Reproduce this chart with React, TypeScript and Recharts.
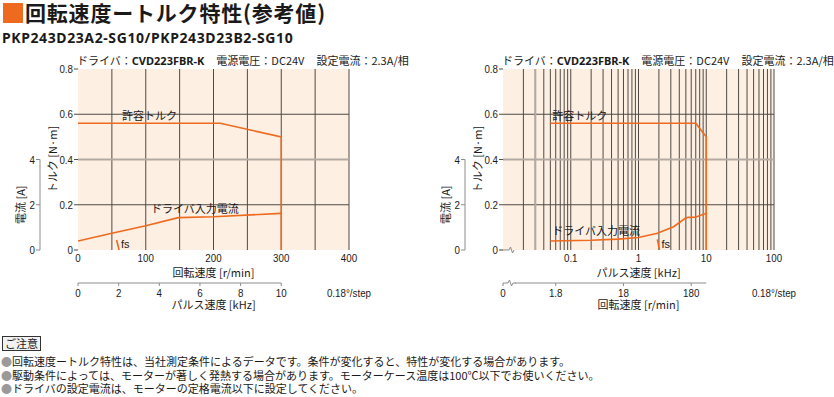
import { LineChart, Line, XAxis, YAxis, CartesianGrid, ReferenceLine } from 'recharts'

// ---- data ----
const torqueTicks = [0, 0.2, 0.4, 0.6, 0.8]
const currentTicks = [0, 2, 4]

// left panel: main axis = speed r/min (linear), sub axis = pulse kHz
const linSpeedTicks = [0, 100, 200, 300, 400]
const linSpeedGrid = [50, 100, 150, 200, 250, 300, 350, 400]
const linPulseTicks = [0, 2, 4, 6, 8, 10]
const linTorqueX = [0, 210, 300, 300]
const linTorqueY = [0.56, 0.56, 0.5, 0]
const linCurrentX = [0, 50, 100, 148, 200, 300]
const linCurrentY = [0.4, 0.74, 1.07, 1.43, 1.47, 1.62]
const linFsKHz = [1.9, 2.02]
const linFsY = [0.044, 0]

// right panel: main axis = pulse kHz (log), sub axis = speed r/min
const logPulseTicks = [0.1, 1, 10, 100]
const logPulseGrid = [
  0.02, 0.03, 0.04, 0.05, 0.06, 0.07, 0.08, 0.09,
  0.1, 0.2, 0.3, 0.4, 0.5, 0.6, 0.7, 0.8, 0.9,
  1, 2, 3, 4, 5, 6, 7, 8, 9,
  10, 20, 30, 40, 50, 60, 70, 80, 90, 100,
]
const logSpeedTicks = [0.3, 1.8, 18, 180]
const logTorqueX = [0.05, 7, 10, 10]
const logTorqueY = [0.56, 0.56, 0.5, 0]
const logCurrentX = [0.05, 0.2, 0.5, 1, 1.9, 3.3, 4.9, 5.4, 6.9, 10]
const logCurrentY = [0.4, 0.43, 0.48, 0.55, 0.74, 1.03, 1.4, 1.44, 1.45, 1.62]
const logFsRpm = [57, 61.2]
const logFsY = [0.047, 0]

const notes = [
  '回転速度ートルク特性は、当社測定条件によるデータです。条件が変化すると、特性が変化する場合があります。',
  '駆動条件によっては、モーターが著しく発熱する場合があります。モーターケース温度は100℃以下でお使いください。',
  'ドライバの設定電流は、モーターの定格電流以下に設定してください。',
]

// ---- styling ----
const ORANGE = '#ee6a1e'
const PEACH = '#fdefe2'
const GRID = '#4f4a46'
const GREY = '#b3aaa3'
const AXIS = '#8c8c8c'
const INK = '#1a1a1a'
const JP = "'Noto Sans CJK JP', sans-serif"
const NUM = "'Liberation Sans', Arial, sans-serif"
const LATIN_BOLD = "'Noto Sans', 'Noto Sans CJK JP', sans-serif"
const NARROW = 0.85

const W = 380
const H = 315
const M = { top: 69, right: 31, bottom: 4, left: 0 }
const CUR_W = 40
const TQ_W = 38
const X1_H = 33
const X2_H = 28
const PLOT_W = W - M.left - M.right - CUR_W - TQ_W
const PLOT_H = H - M.top - M.bottom - X1_H - X2_H

const zip = (xs: number[], ys: number[]) => xs.map((x, i) => ({ x, y: ys[i] }))

// condensed numeric text, like the catalogue's narrow sans
function NarrowText({ x, y, anchor, dy, children }: any) {
  return (
    <text transform={`translate(${x},${y}) scale(${NARROW},1)`} textAnchor={anchor} dy={dy}
      fontFamily={NUM} fontSize={11.5} fill={INK}>
      {children}
    </text>
  )
}

function Tick({ x, y, payload, textAnchor, fmt, side }: any) {
  const label = fmt ? fmt(payload.value) : String(payload.value)
  return (
    <NarrowText x={x} y={y} anchor={textAnchor} dy={side === 'bottom' ? '0.75em' : '0.36em'}>
      {label}
    </NarrowText>
  )
}

function XTitle({ viewBox, text, dy }: any) {
  const { x, y, width } = viewBox
  return (
    <text x={x + width / 2} y={y + dy} textAnchor="middle" dominantBaseline="central"
      fontFamily={JP} fontSize={11} fill={INK}>
      {text}
    </text>
  )
}

function SubAxisLabels({ viewBox, text }: any) {
  const { x, y, width } = viewBox
  return (
    <g>
      <XTitle viewBox={viewBox} text={text} dy={21} />
      <NarrowText x={x + width + 22} y={y + 5} anchor="end" dy="0.75em">0.18°/step</NarrowText>
    </g>
  )
}

function YTitle({ viewBox, text, dx, frac }: any) {
  const cx = viewBox.x + dx
  const cy = viewBox.y + viewBox.height * frac
  return (
    <text x={cx} y={cy} transform={`rotate(-90 ${cx} ${cy})`} textAnchor="middle"
      dominantBaseline="central" fontFamily={JP} fontSize={11} fill={INK}>
      {text}
    </text>
  )
}

const tagDot = (text: string, idx: number, dx: number, dy: number, font = JP) => (p: any) => {
  if (p.index !== idx) return <g key={`d${p.index}`} />
  return (
    <text key={`d${p.index}`} x={p.cx + dx} y={p.cy + dy} dominantBaseline="central"
      fontFamily={font} fontSize={11} fill={INK}>
      {text}
    </text>
  )
}

const fmtTorque = (v: number) => (v === 0 ? '0' : v.toFixed(1))

interface PanelCfg {
  log: boolean
  mainDomain: number[]
  mainTicks: number[]
  mainGrid: number[]
  mainTitle: string
  subDomain: number[]
  subTicks: number[]
  subFmt: (v: number) => string
  subTitle: string
  torque: { x: number; y: number }[]
  current: { x: number; y: number }[]
  fs: { x: number; y: number }[]
  torqueTag: number[]
  currentTag: number[]
  greyX?: number
}

function Panel({ left, cfg }: { left: number; cfg: PanelCfg }) {
  const plotLeft = M.left + CUR_W + TQ_W
  const plotBottom = M.top + PLOT_H
  const scale = cfg.log ? 'log' : 'auto'
  return (
    <div style={{ position: 'absolute', left, top: 0, width: W, height: H }}>
      <div style={{ position: 'absolute', left: plotLeft - 1, top: 52, whiteSpace: 'nowrap',
        fontSize: 11, lineHeight: '16px', color: INK, fontFamily: JP }}>
        ドライバ：<span style={{ fontFamily: LATIN_BOLD, fontWeight: 700 }}>CVD223FBR-K</span>
        <span style={{ marginLeft: 12 }}>電源電圧：DC24V</span>
        <span style={{ marginLeft: 12 }}>設定電流：2.3A/相</span>
      </div>
      <div style={{ position: 'absolute', left: 0, top: 0 }}>
        <LineChart width={W} height={H} margin={M}>
          <CartesianGrid xAxisId="xa" yAxisId="ya" fill={PEACH} fillOpacity={1} stroke={GRID}
            strokeWidth={1} horizontalValues={[0.2, 0.6]} verticalValues={cfg.mainGrid} />
          <XAxis xAxisId="xa" type="number" dataKey="x" scale={scale}
            domain={cfg.mainDomain} ticks={cfg.mainTicks} allowDataOverflow interval={0}
            height={X1_H} axisLine={false} tickLine={false} tickSize={0} tickMargin={3}
            tick={<Tick side="bottom" />} label={<XTitle text={cfg.mainTitle} dy={22} />} />
          <XAxis xAxisId="xb" type="number" dataKey="x" scale={scale}
            domain={cfg.subDomain} ticks={cfg.subTicks} allowDataOverflow interval={0}
            height={X2_H}
            axisLine={{ stroke: AXIS, strokeDasharray: `${PLOT_W * 0.75} ${PLOT_W}` }}
            tickLine={{ stroke: AXIS }} tickSize={3} tickMargin={2}
            tick={<Tick side="bottom" fmt={cfg.subFmt} />}
            label={<SubAxisLabels text={cfg.subTitle} />} />
          <YAxis yAxisId="ya" type="number" domain={[0, 0.8]} ticks={torqueTicks} width={TQ_W}
            allowDataOverflow interval={0}
            axisLine={false} tickLine={{ stroke: GRID }} tickSize={4} tickMargin={1}
            tick={<Tick side="left" fmt={fmtTorque} />}
            label={<YTitle text="トルク [N·m]" dx={12} frac={0.5} />} />
          <YAxis yAxisId="yb" type="number" domain={[0, 8]} ticks={currentTicks} width={CUR_W}
            allowDataOverflow interval={0}
            axisLine={{ stroke: AXIS, strokeDasharray: `0 ${PLOT_H / 2} ${PLOT_H / 2 + 1}` }}
            tickLine={{ stroke: AXIS }} tickSize={4} tickMargin={1}
            tick={<Tick side="left" />}
            label={<YTitle text="電流 [A]" dx={20} frac={0.75} />} />
          <ReferenceLine xAxisId="xa" yAxisId="ya" y={0.4} stroke={GREY} strokeWidth={2} />
          {cfg.greyX !== undefined && (
            <ReferenceLine xAxisId="xa" yAxisId="ya" x={cfg.greyX} stroke={GREY} strokeWidth={2} />
          )}
          <Line xAxisId="xa" yAxisId="yb" data={cfg.current} dataKey="y" type="linear"
            stroke={ORANGE} strokeWidth={1.6} isAnimationActive={false}
            dot={tagDot('ドライバ入力電流', 0, cfg.currentTag[0], cfg.currentTag[1])} activeDot={false} />
          <Line xAxisId="xa" yAxisId="ya" data={cfg.torque} dataKey="y" type="linear"
            stroke={ORANGE} strokeWidth={1.6} isAnimationActive={false}
            dot={tagDot('許容トルク', 0, cfg.torqueTag[0], cfg.torqueTag[1])} activeDot={false} />
          <Line xAxisId="xb" yAxisId="ya" data={cfg.fs} dataKey="y" type="linear"
            stroke={ORANGE} strokeWidth={1.6} isAnimationActive={false}
            dot={tagDot('fs', 1, 2, -6, NUM)} activeDot={false} />
        </LineChart>
      </div>
      {cfg.log && (
        <svg width={W} height={H} style={{ position: 'absolute', left: 0, top: 0, pointerEvents: 'none' }}>
          <path d={`M${plotLeft - 3},${plotBottom} H${plotLeft + 6} l1.5,-3 l2,6 l1.5,-3`}
            fill="none" stroke={AXIS} strokeWidth={1} />
          <rect x={plotLeft + 5} y={plotBottom + X1_H - 3} width={7} height={6} fill="#fff" />
          <path d={`M${plotLeft + 5},${plotBottom + X1_H} l1.5,-3 l2,6 l1.5,-3 H${plotLeft + 13}`}
            fill="none" stroke={AXIS} strokeWidth={1} />
        </svg>
      )}
    </div>
  )
}

const linCfg: PanelCfg = {
  log: false,
  mainDomain: [0, 400],
  mainTicks: linSpeedTicks,
  mainGrid: linSpeedGrid,
  mainTitle: '回転速度 [r/min]',
  subDomain: [0, 400 / 30],
  subTicks: linPulseTicks,
  subFmt: (v) => String(v),
  subTitle: 'パルス速度 [kHz]',
  torque: zip(linTorqueX, linTorqueY),
  current: zip(linCurrentX, linCurrentY),
  fs: zip(linFsKHz, linFsY),
  torqueTag: [44, -8],
  currentTag: [73, -33],
}

const logCfg: PanelCfg = {
  log: true,
  mainDomain: [0.01, 100],
  mainTicks: logPulseTicks,
  mainGrid: logPulseGrid,
  mainTitle: 'パルス速度 [kHz]',
  subDomain: [0.3, 3000],
  subTicks: logSpeedTicks,
  subFmt: (v) => (v === 0.3 ? '0' : String(v)),
  subTitle: '回転速度 [r/min]',
  torque: zip(logTorqueX, logTorqueY),
  current: zip(logCurrentX, logCurrentY),
  fs: zip(logFsRpm, logFsY),
  torqueTag: [2, -8],
  currentTag: [2, -11],
  greyX: 0.03,
}

export default function App() {
  return (
    <div style={{ position: 'absolute', left: 0, top: 0, width: 834, height: 397, background: '#fff',
      fontFamily: JP, color: INK, overflow: 'hidden' }}>
      <div style={{ position: 'absolute', left: 3, top: 3, width: 20, height: 20, background: ORANGE }} />
      <div style={{ position: 'absolute', left: 25, top: 0, fontSize: 21, fontWeight: 700,
        lineHeight: '25px', letterSpacing: 0.8, whiteSpace: 'nowrap' }}>
        回転速度ートルク特性(参考値)
      </div>
      <div style={{ position: 'absolute', left: 2, top: 28, fontSize: 14, fontWeight: 700,
        fontFamily: LATIN_BOLD, lineHeight: '19px', letterSpacing: 0.6, whiteSpace: 'nowrap' }}>
        PKP243D23A2-SG10/PKP243D23B2-SG10
      </div>
      <Panel left={0} cfg={linCfg} />
      <Panel left={425} cfg={logCfg} />
      <div style={{ position: 'absolute', left: 2, top: 336, fontSize: 11, lineHeight: '13px',
        border: '1px solid #333', padding: '0 2px', background: '#f2f2f2' }}>
        ご注意
      </div>
      {notes.map((t, i) => (
        <div key={i} style={{ position: 'absolute', left: 1, top: 355 + i * 13.5, fontSize: 11,
          lineHeight: '13px', whiteSpace: 'nowrap' }}>
          <span style={{ color: '#9a9a9a' }}>●</span>{t}
        </div>
      ))}
    </div>
  )
}
